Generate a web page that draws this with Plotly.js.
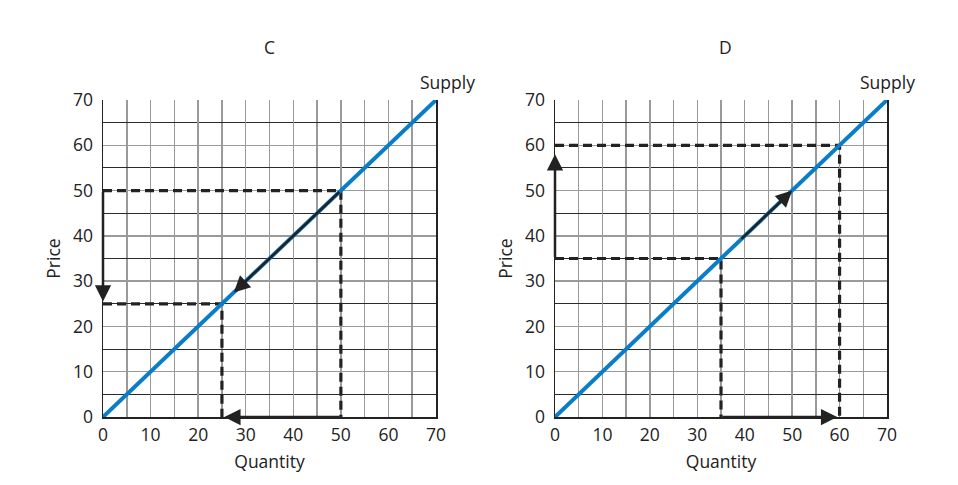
<!DOCTYPE html>
<html>
<head>
<meta charset="utf-8">
<script src="https://cdn.plot.ly/plotly-3.0.1.min.js"></script>
<style>html,body{margin:0;padding:0;background:#fff;}#chart{width:958px;height:485px;}</style>
</head>
<body>
<div id="chart"></div>
<script>
// ---- data ----
const panelTitles = ["C", "D"];
const supplyQ = [0, 70];
const supplyP = [0, 70];
// panel C: price falls 50 -> 25
const cStartQ = 50, cStartP = 50, cEndQ = 25, cEndP = 25;
const cArrowTipQ = 27.5, cArrowTipP = 27.5;
// panel D: price rises 35 -> 60
const dStartQ = 35, dStartP = 35, dEndQ = 60, dEndP = 60;
const dArrowFromQ = 39, dArrowFromP = 39, dArrowTipQ = 50, dArrowTipP = 50;
const axisTicks = [0, 10, 20, 30, 40, 50, 60, 70];
const supplyLabel = "Supply";
const xLabel = "Quantity";
const yLabel = "Price";

// ---- styles ----
const blue = "#0a7dc9";
const ink = "#222";
const fontFam = "'Open Sans', Lato, sans-serif";
const fs = 17.5;

function dashedTrace(q, p, xa, ya) {
  return {x: [0, q, q], y: [p, p, 0], xaxis: xa, yaxis: ya, mode: "lines",
          line: {color: ink, width: 3.2, dash: "9px,5px"}, hoverinfo: "skip", showlegend: false};
}
function supplyTrace(xa, ya) {
  return {x: supplyQ, y: supplyP, xaxis: xa, yaxis: ya, mode: "lines",
          line: {color: blue, width: 4}, hoverinfo: "skip", showlegend: false};
}

const traces = [
  dashedTrace(cStartQ, cStartP, "x", "y"),
  dashedTrace(cEndQ, cEndP, "x", "y"),
  supplyTrace("x", "y"),
  dashedTrace(dStartQ, dStartP, "x2", "y2"),
  dashedTrace(dEndQ, dEndP, "x2", "y2"),
  supplyTrace("x2", "y2")
];

function arrow(xr, yr, fx, fy, tx, ty) {
  return {xref: xr, yref: yr, axref: xr, ayref: yr, x: tx, y: ty, ax: fx, ay: fy,
          text: "", showarrow: true, arrowhead: 2, arrowsize: 1.3, arrowwidth: 2.5,
          arrowcolor: ink, standoff: 0, startstandoff: 0};
}
function label(px, py, txt) {
  return {xref: "paper", yref: "paper", x: px / 958, y: 1 - py / 485, text: txt,
          xanchor: "center", yanchor: "middle", showarrow: false,
          font: {family: fontFam, size: fs, color: ink}};
}

function xAxis(domain, anchor) {
  return {domain: domain, anchor: anchor, range: [0, 70], tickvals: axisTicks,
          ticktext: axisTicks.map(String), showgrid: true, gridcolor: "#9a9a9a", gridwidth: 1.5,
          minor: {dtick: 5, tick0: 0, showgrid: true, gridcolor: "#9a9a9a", gridwidth: 1.5},
          showline: true, linecolor: ink, linewidth: 1.5, zeroline: false,
          ticks: "outside", ticklen: 1, tickcolor: "rgba(0,0,0,0)", fixedrange: true,
          tickfont: {family: fontFam, size: fs, color: ink},
          title: {text: xLabel, standoff: 11, font: {family: fontFam, size: fs, color: ink}}};
}
function yAxis(domain, anchor) {
  return {domain: domain, anchor: anchor, range: [0, 70], tickvals: axisTicks,
          ticktext: axisTicks.map(String), showgrid: true, gridcolor: "#9a9a9a", gridwidth: 1.5,
          minor: {dtick: 5, tick0: 0, showgrid: true, gridcolor: "#2a2a2a", gridwidth: 1},
          showline: true, mirror: true, linecolor: ink, linewidth: 1.5, zeroline: false,
          ticks: "outside", ticklen: 5, tickcolor: "rgba(0,0,0,0)", fixedrange: true,
          tickfont: {family: fontFam, size: fs, color: ink},
          title: {text: yLabel, standoff: 8, font: {family: fontFam, size: fs, color: ink}}};
}

const yDom = [1 - 417 / 485, 1 - 100 / 485];
const layout = {
  width: 958, height: 485,
  margin: {l: 0, r: 0, t: 0, b: 0},
  paper_bgcolor: "#fff", plot_bgcolor: "#fff",
  font: {family: fontFam, color: ink},
  xaxis: xAxis([103 / 958, 436 / 958], "y"),
  yaxis: yAxis(yDom, "x"),
  xaxis2: xAxis([555 / 958, 887 / 958], "y2"),
  yaxis2: yAxis(yDom, "x2"),
  annotations: [
    label(269, 47, panelTitles[0]),
    label(725, 47, panelTitles[1]),
    label(447, 82, supplyLabel),
    label(887, 82, supplyLabel),
    // panel C arrows
    arrow("x", "y", 0, cStartP, 0, cEndP + 0.5),
    arrow("x", "y", cStartQ, 0, cEndQ + 0.5, 0),
    arrow("x", "y", cStartQ, cStartP, cArrowTipQ, cArrowTipP),
    // panel D arrows
    arrow("x2", "y2", 0, dStartP, 0, dEndP - 2),
    arrow("x2", "y2", dStartQ, 0, dEndQ - 0.5, 0),
    arrow("x2", "y2", dArrowFromQ, dArrowFromP, dArrowTipQ, dArrowTipP)
  ]
};

Plotly.newPlot("chart", traces, layout, {displayModeBar: false, staticPlot: true});
</script>
</body>
</html>
